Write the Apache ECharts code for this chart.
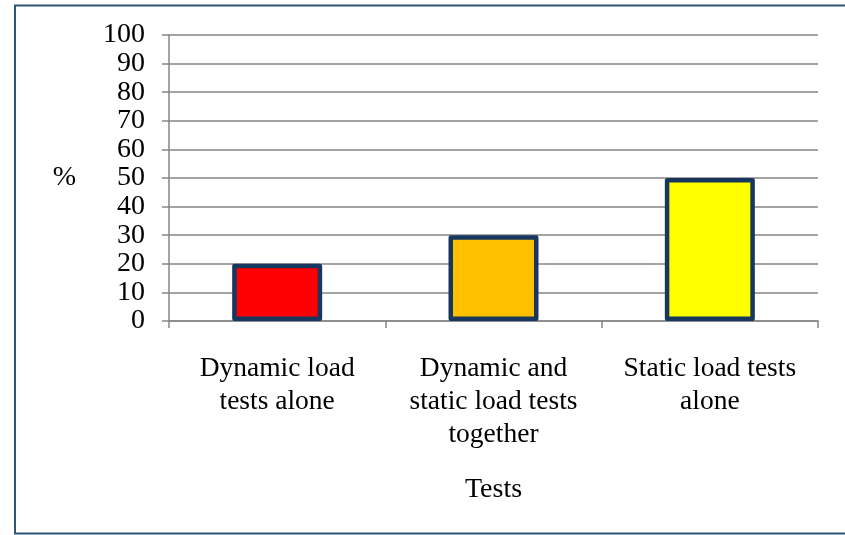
<!DOCTYPE html>
<html>
<head>
<meta charset="utf-8">
<script src="https://cdn.jsdelivr.net/npm/echarts@6/dist/echarts.min.js"></script>
<style>
  html, body { margin: 0; padding: 0; background: #ffffff; }
  #chart { width: 845px; height: 535px; }
</style>
</head>
<body>
<div id="chart"></div>
<script>
// Share of tests by type (%)
const categories = [
  'Dynamic load\ntests alone',
  'Dynamic and\nstatic load tests\ntogether',
  'Static load tests\nalone'
];
const percentages = [20, 30, 50];
const barColors = ['#ff0000', '#ffc000', '#ffff00'];
const yTicks = { min: 0, max: 100, interval: 10 };

const FONT = '"Liberation Serif", "Times New Roman", serif';
const GRID_GRAY = '#868686';

const chart = echarts.init(document.getElementById('chart'), null, { renderer: 'canvas' });

chart.setOption({
  backgroundColor: '#ffffff',
  animation: false,
  graphic: [{
    type: 'rect',
    shape: { x: 15, y: 5.5, width: 860, height: 528 },
    style: { fill: 'none', stroke: '#2f5475', lineWidth: 2 },
    silent: true
  }],
  grid: { left: 169, right: 27, top: 35, bottom: 214, containLabel: false },
  xAxis: {
    type: 'category',
    data: categories,
    name: 'Tests',
    nameLocation: 'middle',
    nameGap: 155,
    nameTextStyle: { fontFamily: FONT, fontSize: 28, color: '#000' },
    axisLine: { lineStyle: { color: GRID_GRAY, width: 1.5 } },
    axisTick: { show: true, length: 7, lineStyle: { color: GRID_GRAY, width: 1.5 } },
    axisLabel: {
      interval: 0,
      margin: 31,
      fontFamily: FONT,
      fontSize: 27.5,
      lineHeight: 33,
      color: '#000',
      align: 'center'
    }
  },
  yAxis: {
    type: 'value',
    min: yTicks.min,
    max: yTicks.max,
    interval: yTicks.interval,
    name: '%',
    nameLocation: 'middle',
    nameRotate: 0,
    nameGap: 93,
    nameTextStyle: { fontFamily: FONT, fontSize: 28, color: '#000' },
    axisLine: { show: true, lineStyle: { color: GRID_GRAY, width: 1.5 } },
    axisTick: { show: true, length: 7, lineStyle: { color: GRID_GRAY, width: 1.5 } },
    axisLabel: {
      margin: 24,
      fontFamily: FONT,
      fontSize: 28,
      lineHeight: 28,
      color: '#000',
      showMinLabel: true,
      showMaxLabel: true,
      hideOverlap: false
    },
    splitLine: { show: true, lineStyle: { color: GRID_GRAY, width: 1.5 } }
  },
  series: [{
    type: 'bar',
    data: percentages.map((v, i) => ({
      value: v,
      itemStyle: { color: barColors[i] }
    })),
    barWidth: 90,
    itemStyle: { borderColor: '#17375e', borderWidth: 4.5, borderJoin: 'round' }
  }]
});
</script>
</body>
</html>
